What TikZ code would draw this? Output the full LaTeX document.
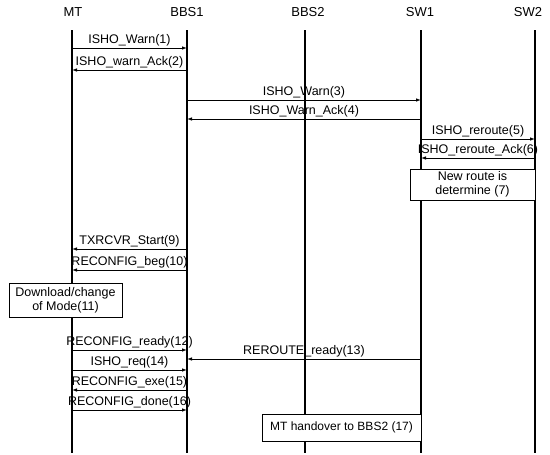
\documentclass[tikz,border=0pt]{standalone}
\usepackage{fontspec}
\setmainfont{Liberation Sans}
\usetikzlibrary{arrows.meta}
\newcommand\msgline[5]{%
  \coordinate (#5a) at (#1 |- 0,#3);
  \coordinate (#5b) at (#2 |- 0,#3);
  \draw[msg] (#5a) -- node[lbl]{#4} (#5b);}
\begin{document}
\begin{tikzpicture}[x=1pt,y=-1pt,
  every node/.style={font=\fontsize{12.5}{14}\selectfont},
  head/.style={font=\fontsize{13}{15}\selectfont},
  life/.style={line width=1.2pt},
  msg/.style={line width=0.8pt,-{Latex[length=5pt,width=3.5pt]}},
  lbl/.style={midway,above,inner sep=1.5pt},
  procbox/.style={draw,line width=0.9pt,fill=white,align=center,inner sep=0pt}]
\useasboundingbox (0,0) rectangle (550,455);
% headers
\node[head] (hMT)   at (73,12)  {MT};
\node[head] (hBBS1) at (187,12) {BBS1};
\node[head] (hBBS2) at (308,12) {BBS2};
\node[head] (hSW1)  at (420,12) {SW1};
\node[head] (hSW2)  at (528,12) {SW2};
% lifelines
\coordinate (tMT) at (72,30);   \coordinate (bMT) at (72,453);
\coordinate (tB1) at (187,30);  \coordinate (bB1) at (187,453);
\coordinate (tB2) at (305,30);  \coordinate (bB2) at (305,453);
\coordinate (tS1) at (421,30);  \coordinate (bS1) at (421,453);
\coordinate (tS2) at (535,30);  \coordinate (bS2) at (535,453);
\foreach \l in {MT,B1,B2,S1,S2} \draw[life] (t\l) -- (b\l);
% messages
\msgline{tMT}{tB1}{48}{ISHO\_Warn(1)}{m1}
\msgline{tB1}{tMT}{70}{ISHO\_warn\_Ack(2)}{m2}
\msgline{tB1}{tS1}{100}{ISHO\_Warn(3)}{m3}
\msgline{tS1}{tB1}{119}{ISHO\_Warn\_Ack(4)}{m4}
\msgline{tS1}{tS2}{139}{ISHO\_reroute(5)}{m5}
\msgline{tS2}{tS1}{158}{ISHO\_reroute\_Ack(6)}{m6}
\node[procbox,minimum width=125pt,minimum height=31pt] (p7) at (472.5,184.5) {New route is\\determine (7)};
\msgline{tB1}{tMT}{249}{TXRCVR\_Start(9)}{m9}
\msgline{tB1}{tMT}{270}{RECONFIG\_beg(10)}{m10}
\node[procbox,minimum width=113pt,minimum height=34pt] (p11) at (65.5,300) {Download/change\\of Mode(11)};
\msgline{tMT}{tB1}{350}{RECONFIG\_ready(12)}{m12}
\msgline{tS1}{tB1}{359}{REROUTE\_ready(13)}{m13}
\msgline{tMT}{tB1}{370}{ISHO\_req(14)}{m14}
\msgline{tB1}{tMT}{390}{RECONFIG\_exe(15)}{m15}
\msgline{tMT}{tB1}{410}{RECONFIG\_done(16)}{m16}
\node[procbox,minimum width=159pt,minimum height=27pt,font=\fontsize{12}{14}\selectfont] (p17) at (341.5,427.5) {MT handover to BBS2 (17)};
\end{tikzpicture}
\end{document}
